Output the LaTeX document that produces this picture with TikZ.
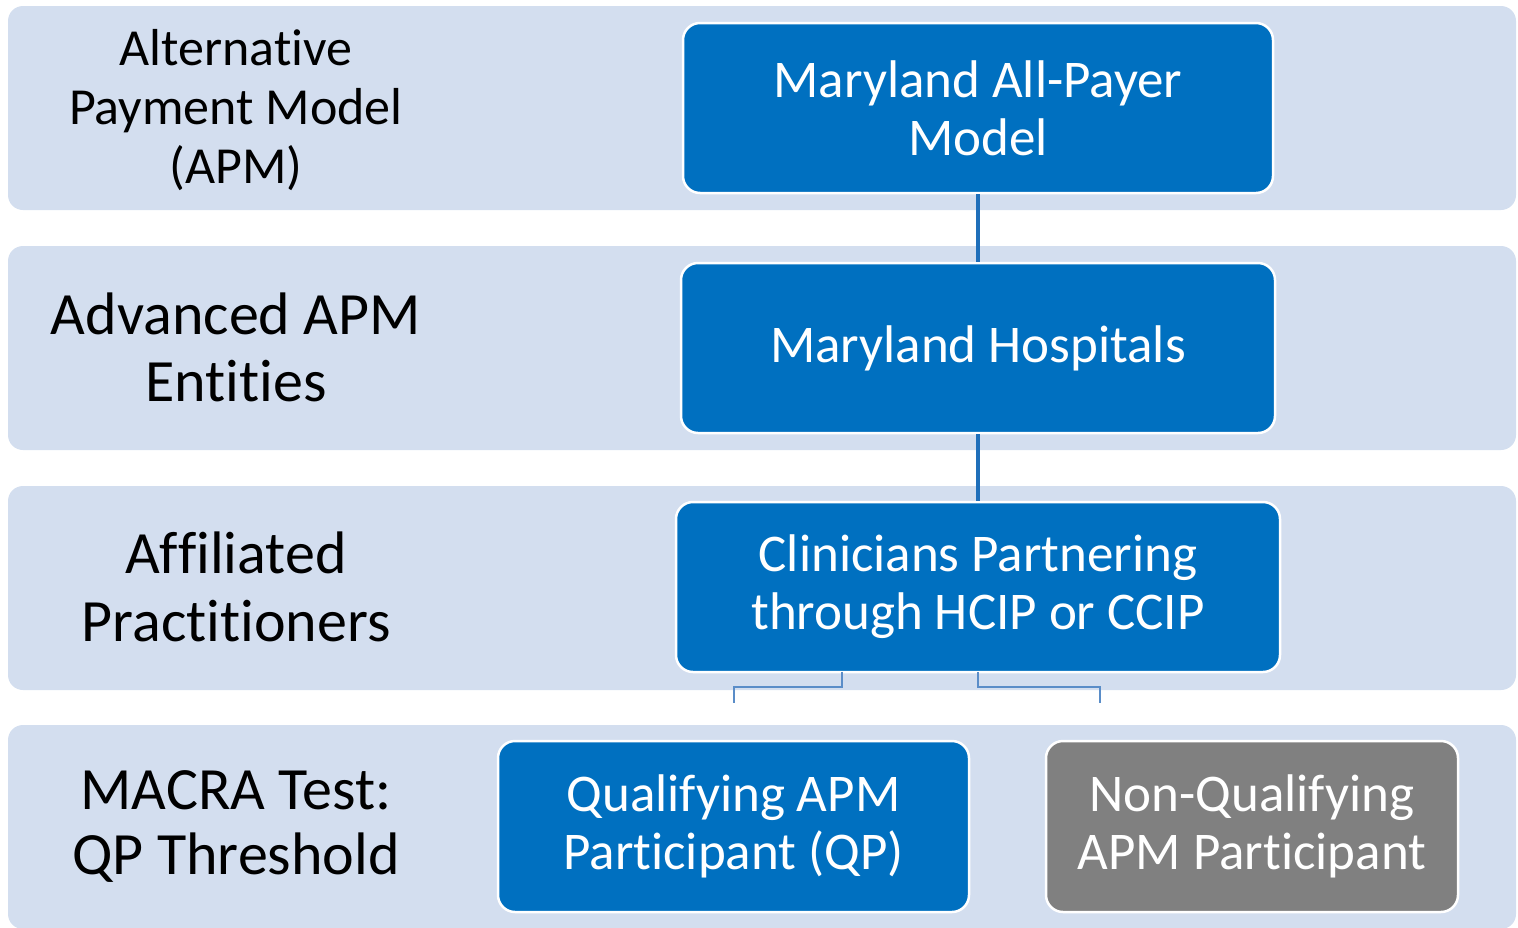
\documentclass[tikz,border=0pt]{standalone}
\usepackage{fontspec}
\setmainfont[Ligatures={NoCommon,NoRequired,NoContextual}]{Carlito}
\newcommand{\nolig}{\kern0pt }
\definecolor{bandc}{HTML}{D3DEEF}
\definecolor{boxblue}{HTML}{0070C0}
\definecolor{boxgray}{HTML}{808080}
\definecolor{vlink}{HTML}{1F6FBA}
\definecolor{blink}{HTML}{5A8DC8}
\begin{document}
\begin{tikzpicture}[x=1pt,y=-1pt,
  band/.style={fill=bandc, draw=none, rounded corners=15pt, inner sep=0pt, minimum width=1508pt, minimum height=204pt},
  lbl/.style={align=center, text=black, inner sep=0pt},
  bluebox/.style={fill=boxblue, draw=white, line width=2.5pt, rounded corners=17pt, inner sep=0pt, text=white, align=center,
    font=\fontsize{53}{58}\selectfont},
  graybox/.style={bluebox, fill=boxgray},
  vline/.style={draw=vlink, line width=3.5pt},
  bline/.style={draw=blink, line width=2.5pt}]
\useasboundingbox (0,0) rectangle (1518,927);
% bands
\node[band] (band1) at (762,108) {};
\node[band] (band2) at (762,348) {};
\node[band] (band3) at (762,588) {};
\node[band] (band4) at (762,827) {};
% left labels
\node[lbl, font=\fontsize{52}{59}\selectfont] (l1) at (236,110) {Alternat\nolig ive\\Payment Model\\(APM)};
\node[lbl, font=\fontsize{60}{67}\selectfont] (l2) at (236,347) {Advanced APM\\Ent\nolig it\nolig ies};
\node[lbl, font=\fontsize{60}{68}\selectfont] (l3) at (236,587) {Af\nolig f\nolig iliated\\Pract\nolig it\nolig ioners};
\node[lbl, font=\fontsize{60}{65}\selectfont] (l4) at (236,826) {MACRA Test:\\QP Threshold};
% boxes
\node[bluebox, minimum width=590pt, minimum height=170pt] (apm) at (978,108) {Maryland All-Payer\\Model};
\node[bluebox, minimum width=594pt, minimum height=170pt] (hosp) at (978,348) {Maryland Hospitals};
\node[bluebox, minimum width=604pt, minimum height=170pt] (clin) at (978,587) {Clinicians Partnering\\through HCIP or CCIP};
\node[bluebox, minimum width=471pt, minimum height=171pt] (qp) at (733.5,826.5) {Qualifying APM\\Part\nolig icipant (QP)};
\node[graybox, minimum width=412pt, minimum height=171pt] (nqp) at (1252,826.5) {Non-Qualifying\\APM Part\nolig icipant};
% connectors
\draw[vline] (apm.south) -- (hosp.north);
\draw[vline] (hosp.south) -- (clin.north);
\coordinate (c1) at (842,0);
\coordinate (b1) at (734,703);
\coordinate (b2) at (1100,703);
\draw[bline] ([yshift=1.5pt]clin.south -| c1) -- ++(0,15) -| (b1);
\draw[bline] ([yshift=1.5pt]clin.south) -- ++(0,15) -| (b2);
\end{tikzpicture}
\end{document}
